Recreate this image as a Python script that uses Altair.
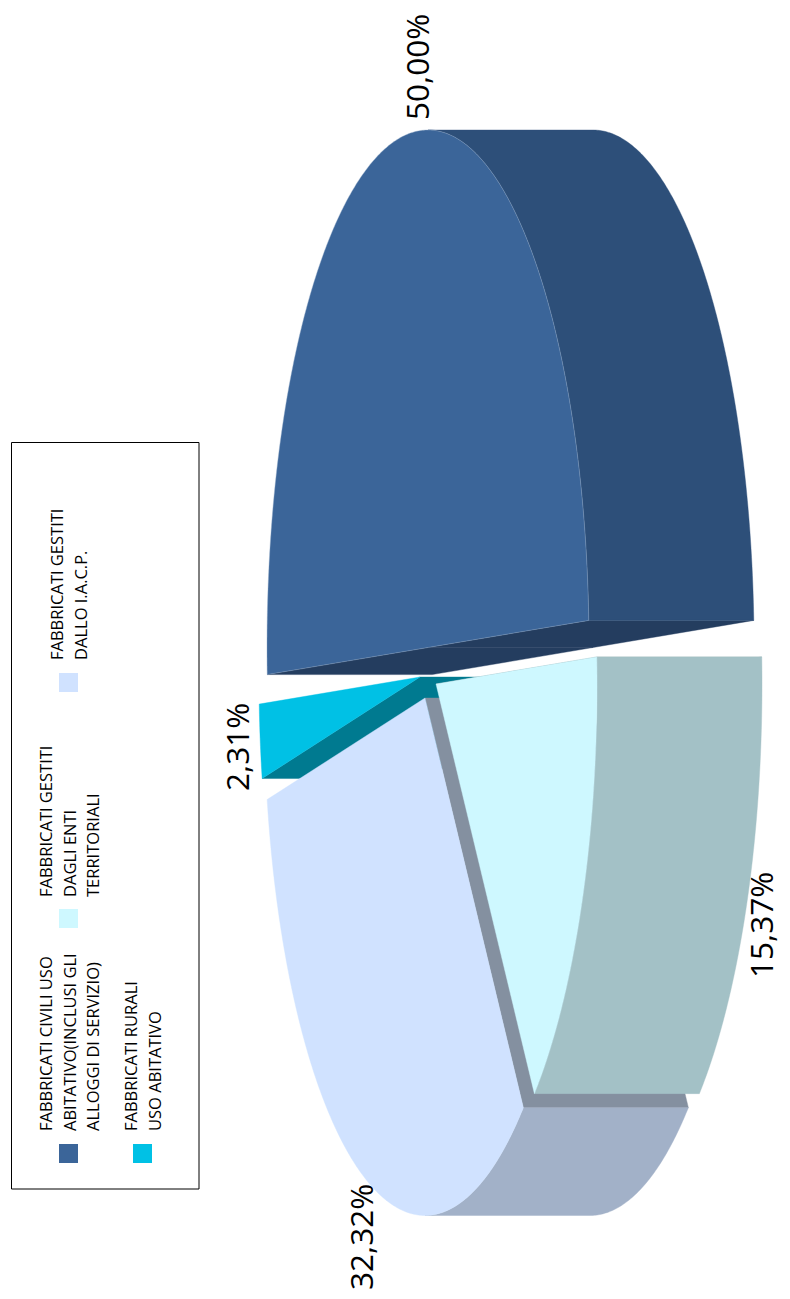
import math
import altair as alt
import pandas as pd

# --- chart values
shares = [50.00, 2.31, 32.32, 15.37]
share_labels = ["50,00%", "2,31%", "32,32%", "15,37%"]
legend_lines = [
    ["FABBRICATI CIVILI USO", "ABITATIVO(INCLUSI GLI", "ALLOGGI DI SERVIZIO)"],
    ["FABBRICATI RURALI", "USO ABITATIVO"],
    ["FABBRICATI GESTITI", "DAGLI ENTI", "TERRITORIALI"],
    ["FABBRICATI GESTITI", "DALLO I.A.C.P."],
]
face_colors = ["#3B6599", "#00C1E5", "#D0E2FF", "#CEF8FF"]
face_edges = ["#8FA8C8", "#00C1E5", "#D0E2FF", "#CEF8FF"]
wall_colors = ["#2D4F79", "#007A90", "#A2B1C8", "#A3C1C6"]
inner_colors = ["#243D5F", "#007A90", "#8490A0", "#8AA3A7"]

# --- layout of the drawing
W, H = 774, 1283
A, B, DEPTH = 161, 517.5, 165
START = 3.0
CENTERS = [(428, 647.5), (420, 677), (425, 698), (436, 684)]
DRAW_ORDER = [1, 2, 3, 0]
LABEL_POS = [(429, 120), (249, 791), (373, 1290), (773, 978)]
LEGEND_POS = [  # first baseline x, text start y, swatch left x, swatch top y
    (52, 1131, 59, 1144), (137, 1131, 133, 1144),
    (52, 897, 59, 909), (63, 660, 59, 673),
]
LINE_STEP = 23.5

xs = alt.Scale(domain=[8, 8 + W], nice=False, zero=False)
ys = alt.Scale(domain=[8 + H, 8], nice=False, zero=False)
X = lambda f="x": alt.X(f"{f}:Q", scale=xs, axis=None)
Y = lambda f="y": alt.Y(f"{f}:Q", scale=ys, axis=None)


def pt(c, deg, shift=0):
    r = math.radians(deg)
    return (c[0] + A * math.cos(r) + shift, c[1] - B * math.sin(r))


def arc(c, a0, a1, shift=0):
    n = max(2, int(abs(a1 - a0) * 2))
    return [pt(c, a0 + (a1 - a0) * k / n, shift) for k in range(n + 1)]


# slice angles from the shares
angles = []
cursor = START
for s in shares:
    angles.append((cursor, cursor + s * 3.6))
    cursor += s * 3.6

rows = []
seq = 0


def add(points, color, edge=None):
    global seq
    seq += 1
    edge = edge or color
    for i, (x, y) in enumerate(points + [points[0]]):
        rows.append({"x": x, "y": y, "i": i, "poly": f"p{seq:02d}", "color": color, "edge": edge})


for k in DRAW_ORDER:
    c = CENTERS[k]
    a0, a1 = angles[k]
    # inner wall
    e = pt(c, a1)
    add([c, e, (e[0] + DEPTH, e[1]), (c[0] + DEPTH, c[1])], inner_colors[k])
    if shares[k] == 50.0:
        e0 = pt(c, a0)
        add([c, e0, (e0[0] + DEPTH, e0[1]), (c[0] + DEPTH, c[1])], inner_colors[k])
    # outer wall: only the part that faces the viewer
    spans = []
    for lo, hi in [(-90, 90), (270, 450)]:
        u, v = max(a0, lo), min(a1, hi)
        if v > u:
            spans.append((u, v))
    for u, v in spans:
        add(arc(c, u, v) + arc(c, v, u, DEPTH), wall_colors[k])
    # top face
    add([c] + arc(c, a0, a1), face_colors[k], face_edges[k])

poly = pd.DataFrame(rows)
slices = alt.Chart(poly).mark_line(strokeWidth=0.4, interpolate="linear").encode(
    x=X(), y=Y(),
    order=alt.Order("i:Q"),
    detail="poly:N",
    fill=alt.Fill("color:N", scale=None),
    stroke=alt.Stroke("edge:N", scale=None),
)

labels = pd.DataFrame({"t": share_labels,
                       "x": [p[0] for p in LABEL_POS],
                       "y": [p[1] for p in LABEL_POS]})
label_layer = alt.Chart(labels).mark_text(
    font="Open Sans", fontSize=31.5, angle=270, align="left", baseline="alphabetic", color="#000000"
).encode(x=X(), y=Y(), text="t:N")

legend_rows, swatch_rows = [], []
for k, (lines, (bx, sy, sx, st)) in enumerate(zip(legend_lines, LEGEND_POS)):
    for j, line in enumerate(lines):
        legend_rows.append({"t": line, "x": bx + j * LINE_STEP, "y": sy})
    swatch_rows.append({"x": sx, "x2": sx + 19, "y": st, "y2": st + 19, "color": face_colors[k if k < 2 else (5 - k)]})

box = alt.Chart(pd.DataFrame([{"x": 11.5, "x2": 199, "y": 442.5, "y2": 1189}])).mark_rect(
    fill="#FFFFFF", stroke="#000000", strokeWidth=1
).encode(x=X(), x2="x2:Q", y=Y(), y2="y2:Q")

swatches = alt.Chart(pd.DataFrame(swatch_rows)).mark_rect().encode(
    x=X(), x2="x2:Q", y=Y(), y2="y2:Q", fill=alt.Fill("color:N", scale=None)
)

legend_text = alt.Chart(pd.DataFrame(legend_rows)).mark_text(
    font="Open Sans", fontSize=16.5, angle=270, align="left", baseline="alphabetic", color="#000000"
).encode(x=X(), y=Y(), text="t:N")

chart = alt.layer(box, swatches, legend_text, slices, label_layer).properties(
    width=W, height=H, padding=0, autosize=alt.AutoSizeParams(type="none")
).configure_view(stroke=None)

chart.save("out.html", embed_options={"renderer": "svg", "actions": False})
